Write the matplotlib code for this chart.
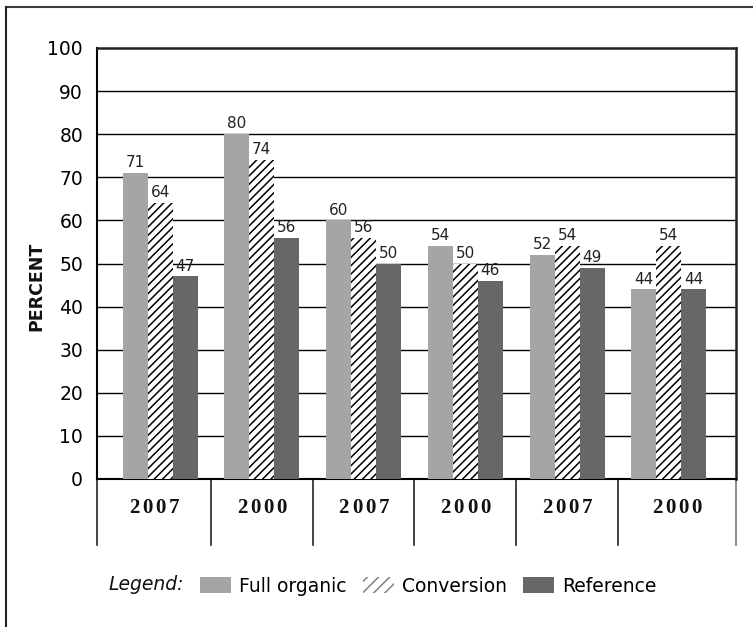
import matplotlib
matplotlib.use("Agg")
import matplotlib.pyplot as plt
from matplotlib.patches import Patch
from matplotlib.lines import Line2D
import matplotlib.transforms as mtransforms

# Survey shares (percent) per period
years = ["2007", "2000", "2007", "2000", "2007", "2000"]
full_organic = [71, 80, 60, 54, 52, 44]
conversion = [64, 74, 56, 50, 54, 54]
reference = [47, 56, 50, 46, 49, 44]
series_names = ["Full organic", "Conversion", "Reference"]
y_ticks = list(range(0, 101, 10))

plt.rcParams["hatch.linewidth"] = 1.1

W, H = 753, 627
fig = plt.figure(figsize=(W / 100, H / 100), dpi=100)
ax = fig.add_axes([97 / W, 1 - 479 / H, (736 - 97) / W, (479 - 48) / H])

light = "#a5a5a5"
dark = "#676767"
bw = 0.246
xs = list(range(len(years)))
xlim = (-0.62, 5.66)

b1 = ax.bar([x - bw for x in xs], full_organic, bw, color=light, linewidth=0, zorder=3)
b2 = ax.bar(xs, conversion, bw, color="white", edgecolor="black", hatch="////",
            linewidth=0, zorder=3)
b3 = ax.bar([x + bw for x in xs], reference, bw, color=dark, linewidth=0, zorder=3)

for bars, vals in ((b1, full_organic), (b2, conversion), (b3, reference)):
    for rect, v in zip(bars, vals):
        ax.annotate(f"{v}", (rect.get_x() + rect.get_width() / 2, v),
                    xytext=(0, 2), textcoords="offset points",
                    ha="center", va="bottom", fontsize=11, color="#222222",
                    zorder=4)

ax.set_xlim(*xlim)
ax.set_ylim(0, 100)
ax.set_yticks(y_ticks)
ax.tick_params(axis="y", length=0, pad=10, labelsize=13.5)
ax.set_xticks([])
for yv in y_ticks[1:-1]:
    ax.axhline(yv, color="black", linewidth=1.0, zorder=1)

for side in ("left", "bottom"):
    ax.spines[side].set_linewidth(1.5)
for side in ("top", "right"):
    ax.spines[side].set_linewidth(1.8)
    ax.spines[side].set_color("#222222")

fig.text(36.5 / W, 1 - 286 / H, "PERCENT", rotation=90, fontsize=12.5,
         fontweight="bold", ha="center", va="center", color="#111111")

# Category cells under the axis
trans = mtransforms.blended_transform_factory(ax.transData, ax.transAxes)
edges = [xlim[0]] + [i + 0.5 for i in range(len(years) - 1)] + [xlim[1]]
drop = -66 / 431
for i, e in enumerate(edges):
    col = "#777777" if i == len(edges) - 1 else "#222222"
    ax.add_line(Line2D([e, e], [0, drop], transform=trans, color=col,
                       linewidth=1.2, clip_on=False))
step_pt = 13.3 * 0.72
for i, yr in enumerate(years):
    cx = (edges[i] + edges[i + 1]) / 2
    n = len(yr)
    for k, ch in enumerate(yr):
        ax.annotate(ch, (cx, -29 / 431), xycoords=trans,
                    xytext=((k - (n - 1) / 2) * step_pt, 0),
                    textcoords="offset points", ha="center", va="center",
                    fontsize=15, fontweight="bold", family="Liberation Serif",
                    color="#111111", annotation_clip=False)

# Legend row
handles = [
    Patch(facecolor=light, edgecolor="none"),
    Patch(facecolor="white", edgecolor="#808080", hatch="///", linewidth=0),
    Patch(facecolor=dark, edgecolor="none"),
]
fig.text(108 / W, 1 - 585 / H, "Legend:", fontsize=13.5, style="italic",
         ha="left", va="center", color="#111111")
fig.legend(handles, series_names, ncol=3, frameon=False, loc="center left",
           bbox_to_anchor=(200 / W, 1 - 586 / H), borderpad=0, borderaxespad=0,
           fontsize=13.5, handlelength=1.65, handleheight=0.9,
           handletextpad=0.45, columnspacing=0.85)

# Outer frame (top and left edges)
fig.add_artist(Line2D([6 / W, 1], [1 - 7 / H, 1 - 7 / H], transform=fig.transFigure,
                      color="#3a3a3a", linewidth=1.5))
fig.add_artist(Line2D([6 / W, 6 / W], [0, 1 - 7 / H], transform=fig.transFigure,
                      color="#222222", linewidth=1.5))

fig.savefig("out.png", dpi=100)
